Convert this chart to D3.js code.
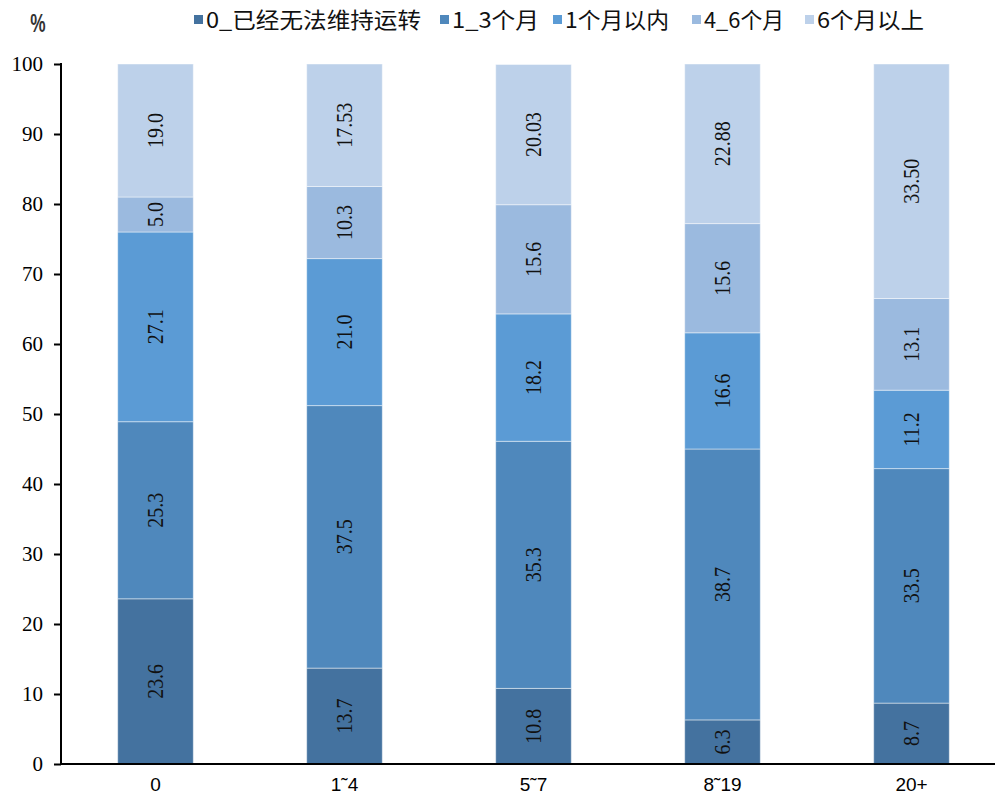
<!DOCTYPE html>
<html>
<head>
<meta charset="utf-8">
<script src="https://cdn.jsdelivr.net/npm/d3@7"></script>
<style>
  html, body { margin: 0; padding: 0; background: #fff; }
  svg { display: block; }
</style>
</head>
<body>
<svg id="chart" width="995" height="798"></svg>
<script>
// Company size groups (x axis)
const categories = ["0", "1\u02DC4", "5\u02DC7", "8\u02DC19", "20+"];

// Series, stacked bottom to top
const seriesNames = ["0_已经无法维持运转", "1_3个月", "1个月以内", "4_6个月", "6个月以上"];
const sNoOps   = [23.6, 13.7, 10.8, 6.3, 8.7];
const s1to3    = [25.3, 37.5, 35.3, 38.7, 33.5];
const sUnder1  = [27.1, 21.0, 18.2, 16.6, 11.2];
const s4to6    = [5.0, 10.3, 15.6, 15.6, 13.1];
const sOver6   = [19.0, 17.53, 20.03, 22.88, 33.50];
const seriesValues = [sNoOps, s1to3, sUnder1, s4to6, sOver6];

// Printed labels per series (decimals as published)
const labelDigits = [[1,1,1,1,1],[1,1,1,1,1],[1,1,1,1,1],[1,1,1,1,1],[1,2,2,2,2]];

const yTicks = [0, 10, 20, 30, 40, 50, 60, 70, 80, 90, 100];
const colors = ["#44729F", "#4F88BC", "#5B9BD5", "#9BBADF", "#BDD1EA"];

const svg = d3.select("#chart");
const plotL = 61, plotR = 1006, plotT = 64, plotB = 764;

const x = d3.scaleBand().domain(categories).range([plotL, plotR])
  .paddingInner(0.6).paddingOuter(0.3);
const y = d3.scaleLinear().domain([0, 100]).range([plotB, plotT]).clamp(true);

// Build stacked rows
const rows = categories.map((c, i) => {
  const r = { cat: c };
  seriesNames.forEach((s, k) => r[s] = seriesValues[k][i]);
  return r;
});
const stacked = d3.stack().keys(seriesNames)(rows);

const g = svg.append("g");
stacked.forEach((layer, k) => {
  const lg = g.append("g");
  lg.selectAll("rect").data(layer).join("rect")
    .attr("x", d => x(d.data.cat))
    .attr("width", x.bandwidth())
    .attr("y", d => y(d[1]))
    .attr("height", d => y(d[0]) - y(d[1]))
    .attr("fill", colors[k])
    .attr("stroke", "rgba(255,255,255,0.45)")
    .attr("stroke-width", 1);

  lg.selectAll("text").data(layer).join("text")
    .attr("transform", d => {
      const cx = x(d.data.cat) + x.bandwidth() / 2;
      const cy = (y(d[0]) + y(d[1])) / 2;
      return `translate(${cx},${cy}) rotate(-90) scale(0.95,1.08)`;
    })
    .attr("text-anchor", "middle")
    .attr("dy", "0.35em")
    .attr("font-family", "'Liberation Serif', 'Times New Roman', serif")
    .attr("font-size", 21)
    .attr("fill", "#111")
    .text((d, i) => seriesValues[k][i].toFixed(labelDigits[k][i]));
});

// Y axis
const yAxis = d3.axisLeft(y).tickValues(yTicks).tickSize(7).tickPadding(11).tickFormat(d3.format("d"));
const ya = svg.append("g").attr("transform", `translate(${plotL},0)`).call(yAxis);
ya.select(".domain").attr("stroke", "#000").attr("stroke-width", 2)
  .attr("d", `M0,${plotT - 1}V${plotB + 1}`);
ya.selectAll(".tick line").attr("stroke", "#000").attr("stroke-width", 2);
ya.selectAll(".tick text")
  .attr("font-family", "'Liberation Serif', 'Times New Roman', serif")
  .attr("font-size", 21).attr("fill", "#000");

// X axis
const xAxis = d3.axisBottom(x).tickSize(0).tickPadding(14);
const xa = svg.append("g").attr("transform", `translate(0,${plotB})`).call(xAxis);
xa.select(".domain").attr("stroke", "#000").attr("stroke-width", 2)
  .attr("d", `M${plotL},0H995`);
xa.selectAll(".tick text")
  .attr("font-family", "'Liberation Sans', Arial, sans-serif")
  .attr("font-size", 19).attr("fill", "#000");

// Unit label
svg.append("text").attr("transform", "translate(38,32) scale(0.75,1.1)")
  .attr("text-anchor", "middle")
  .attr("font-family", "'Liberation Sans', Arial, sans-serif")
  .attr("font-size", 23).attr("font-weight", 700).attr("fill", "#333")
  .text("%");

// Legend
const legendMarkerX = [194, 440, 553, 692, 805];
const legendTextW = [215, 87, 104, 80, 107];
const leg = svg.append("g");
seriesNames.forEach((s, k) => {
  leg.append("rect").attr("x", legendMarkerX[k]).attr("y", 15)
    .attr("width", 9).attr("height", 9).attr("fill", colors[k]);
  leg.append("text").attr("x", legendMarkerX[k] + 12).attr("y", 28)
    .attr("font-family", "'Noto Sans CJK SC', 'Noto Sans', sans-serif")
    .attr("font-size", 22).attr("fill", "#111")
    .attr("textLength", legendTextW[k]).attr("lengthAdjust", "spacingAndGlyphs")
    .text(s);
});
</script>
</body>
</html>
